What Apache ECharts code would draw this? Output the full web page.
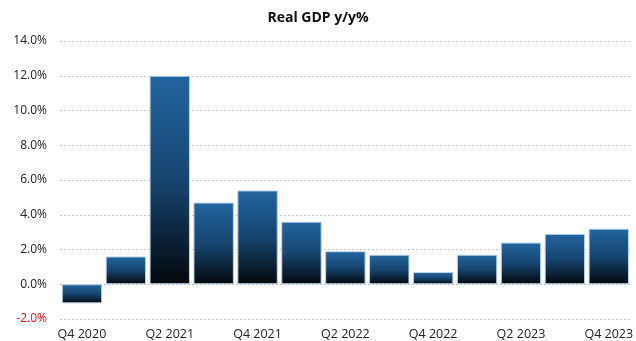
<!DOCTYPE html>
<html>
<head>
<meta charset="utf-8">
<script src="https://cdn.jsdelivr.net/npm/echarts@6/dist/echarts.min.js"></script>
<style>
  html, body { margin: 0; padding: 0; background: #fff; }
  #chart { width: 636px; height: 341px; }
</style>
</head>
<body>
<div id="chart"></div>
<script>
// quarters and real GDP growth, y/y %
const quarters = ["Q4 2020", "Q1 2021", "Q2 2021", "Q3 2021", "Q4 2021", "Q1 2022", "Q2 2022",
    "Q3 2022", "Q4 2022", "Q1 2023", "Q2 2023", "Q3 2023", "Q4 2023"];
const gdpYoY = [-1.1, 1.6, 12.0, 4.7, 5.4, 3.6, 1.9, 1.7, 0.7, 1.7, 2.4, 2.9, 3.2];

const chart = echarts.init(document.getElementById("chart"));

const barGradient = new echarts.graphic.LinearGradient(0, 0, 0, 1, [
    { offset: 0, color: "#22659f" },
    { offset: 0.5, color: "#164570" },
    { offset: 1, color: "#03070c" },
]);

chart.setOption({
    animation: false,
    textStyle: { fontFamily: "Open Sans, sans-serif" },
    title: {
        text: "Real GDP y/y%",
        left: "center",
        top: 6,
        textStyle: { fontSize: 14, fontWeight: "bold", color: "#111" },
    },
    grid: { left: 60, right: 2, top: 41, bottom: 22 },
    xAxis: {
        type: "category",
        data: quarters,
        axisLine: { show: false },
        axisTick: { show: false },
        axisLabel: {
            interval: 1,
            color: "#222",
            fontSize: 12.5,
            margin: 9,
        },
    },
    yAxis: {
        type: "value",
        min: -2,
        max: 14,
        interval: 2,
        axisLabel: {
            formatter: (v) => v.toFixed(1) + "%",
            color: (v) => (v < 0 ? "#e8111c" : "#222"),
            fontSize: 12,
            margin: 13,
        },
        splitLine: { lineStyle: { color: "#c4c4c4", type: [2, 2], width: 1 } },
    },
    series: [
        {
            type: "bar",
            data: gdpYoY,
            barCategoryGap: "8%",
            itemStyle: {
                color: barGradient,
                borderColor: "#b9d3ea",
                borderWidth: 1,
            },
        },
    ],
});
</script>
</body>
</html>
